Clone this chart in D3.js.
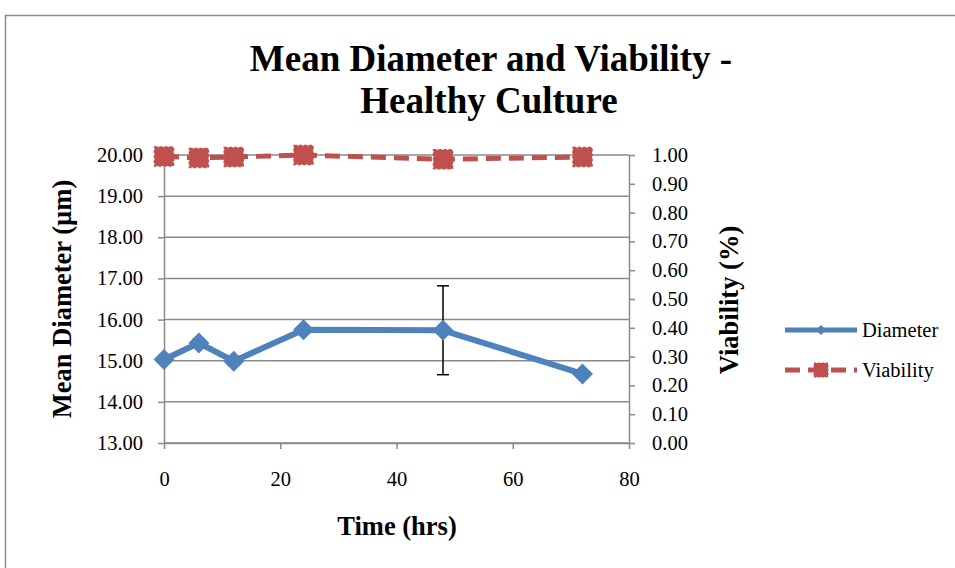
<!DOCTYPE html>
<html><head><meta charset="utf-8">
<script src="https://cdn.jsdelivr.net/npm/d3@7"></script>
<style>body{margin:0;background:#fff}svg{display:block}text{font-family:"Liberation Serif","Times New Roman",serif}</style>
</head><body><svg id="c" width="955" height="568"></svg>
<script>
const timeHrs = [0, 6, 12, 24, 48, 72];
const diameter = [15.03, 15.43, 14.99, 15.75, 15.74, 14.68];
const diameterErr = [0.08, 0.1, 0.1, 0.06, 1.08, 0.07];
const viability = [0.995, 0.99, 0.993, 1.00, 0.985, 0.993];
const xTicks = [0, 20, 40, 60, 80];
const leftTicks = [13, 14, 15, 16, 17, 18, 19, 20];
const rightTicks = [0, 0.1, 0.2, 0.3, 0.4, 0.5, 0.6, 0.7, 0.8, 0.9, 1.0];
const seriesNames = ["Diameter", "Viability"];

const svg = d3.select("#c");
const blue = "#4F81BD", red = "#C0504D", grid = "#8a8a8a";
const L = 164, R = 629, T = 155, B = 443;

svg.append("rect").attr("x",5.5).attr("y",15.5).attr("width",960).attr("height",570)
  .attr("fill","none").attr("stroke","#8c8c8c").attr("stroke-width",1.5);

const x = d3.scaleLinear().domain([0,80]).range([L,R]);
const yL = d3.scaleLinear().domain([13,20]).range([B,T]);
const yR = d3.scaleLinear().domain([0,1]).range([B,T]);

svg.append("g").selectAll("line").data(leftTicks).join("line")
  .attr("x1",L).attr("x2",R).attr("y1",d=>yL(d)).attr("y2",d=>yL(d))
  .attr("stroke",grid).attr("stroke-width",1.5);

function styleAxis(g){
  g.select(".domain").attr("stroke",grid).attr("stroke-width",1.5);
  g.selectAll(".tick line").attr("stroke",grid).attr("stroke-width",1.5);
  g.selectAll(".tick text").attr("font-size",20.5).attr("fill","#000")
   .attr("font-family","Liberation Serif, serif");
}
const gx = svg.append("g").attr("transform",`translate(0,${B})`)
  .call(d3.axisBottom(x).tickValues(xTicks).tickSize(6).tickSizeOuter(0).tickPadding(22).tickFormat(d3.format("d")));
styleAxis(gx);
const gl = svg.append("g").attr("transform",`translate(${L},0)`)
  .call(d3.axisLeft(yL).tickValues(leftTicks).tickSize(6).tickSizeOuter(0).tickPadding(15).tickFormat(d3.format(".2f")));
styleAxis(gl);
const gr = svg.append("g").attr("transform",`translate(${R},0)`)
  .call(d3.axisRight(yR).tickValues(rightTicks).tickSize(6).tickSizeOuter(0).tickPadding(17).tickFormat(d3.format(".2f")));
styleAxis(gr);

const title = svg.append("text").attr("text-anchor","middle")
  .attr("font-size",37).attr("font-weight","bold");
title.append("tspan").attr("x",491).attr("y",71).text("Mean Diameter and Viability -");
title.append("tspan").attr("x",489).attr("y",113).text("Healthy Culture");
svg.append("text").attr("x",397).attr("y",535).attr("text-anchor","middle")
  .attr("font-size",26.5).attr("font-weight","bold").text("Time (hrs)");
svg.append("text").attr("transform","translate(71,299) rotate(-90)").attr("text-anchor","middle")
  .attr("font-size",26.5).attr("font-weight","bold").text("Mean Diameter (µm)");
svg.append("text").attr("transform","translate(738,300) rotate(-90)").attr("text-anchor","middle")
  .attr("font-size",26.5).attr("font-weight","bold").text("Viability (%)");

const vData = timeHrs.map((t,i)=>({t,v:viability[i]}));
svg.append("path").datum(vData)
  .attr("d", d3.line().x(d=>x(d.t)).y(d=>yR(d.v)))
  .attr("fill","none").attr("stroke",red).attr("stroke-width",5)
  .attr("stroke-dasharray","15,8");
const sq = 19;
svg.append("g").selectAll("rect").data(vData).join("rect")
  .attr("x",d=>x(d.t)-sq/2).attr("y",d=>yR(d.v)-sq/2).attr("width",sq).attr("height",sq)
  .attr("fill",red).attr("stroke",red).attr("stroke-width",1.5).attr("stroke-dasharray","3,2");

const dData = timeHrs.map((t,i)=>({t,v:diameter[i],e:diameterErr[i]}));
svg.append("path").datum(dData)
  .attr("d", d3.line().x(d=>x(d.t)).y(d=>yL(d.v)))
  .attr("fill","none").attr("stroke",blue).attr("stroke-width",6).attr("stroke-linejoin","round");
const eb = svg.append("g").attr("stroke","#000").attr("stroke-width",1.5);
dData.forEach(d=>{
  eb.append("line").attr("x1",x(d.t)).attr("x2",x(d.t)).attr("y1",yL(d.v-d.e)).attr("y2",yL(d.v+d.e));
  [d.v-d.e,d.v+d.e].forEach(v=>eb.append("line").attr("x1",x(d.t)-6).attr("x2",x(d.t)+6).attr("y1",yL(v)).attr("y2",yL(v)));
});
const dm = 10.5;
svg.append("g").selectAll("path").data(dData).join("path")
  .attr("d",d=>`M${x(d.t)},${yL(d.v)-dm}L${x(d.t)+dm},${yL(d.v)}L${x(d.t)},${yL(d.v)+dm}L${x(d.t)-dm},${yL(d.v)}Z`)
  .attr("fill",blue);

const leg = svg.append("g");
leg.append("line").attr("x1",785).attr("x2",857).attr("y1",330).attr("y2",330)
  .attr("stroke",blue).attr("stroke-width",5);
leg.append("path").attr("d","M821,325L826,330L821,335L816,330Z").attr("fill",blue);
leg.append("text").attr("x",862).attr("y",337).attr("font-size",20.5).text(seriesNames[0]);
leg.append("line").attr("x1",785).attr("x2",857).attr("y1",370).attr("y2",370)
  .attr("stroke",red).attr("stroke-width",5).attr("stroke-dasharray","15,8");
leg.append("rect").attr("x",814).attr("y",363).attr("width",14).attr("height",14)
  .attr("fill",red).attr("stroke",red).attr("stroke-width",1).attr("stroke-dasharray","2,2");
leg.append("text").attr("x",862).attr("y",377).attr("font-size",20.5).text(seriesNames[1]);
</script></body></html>
